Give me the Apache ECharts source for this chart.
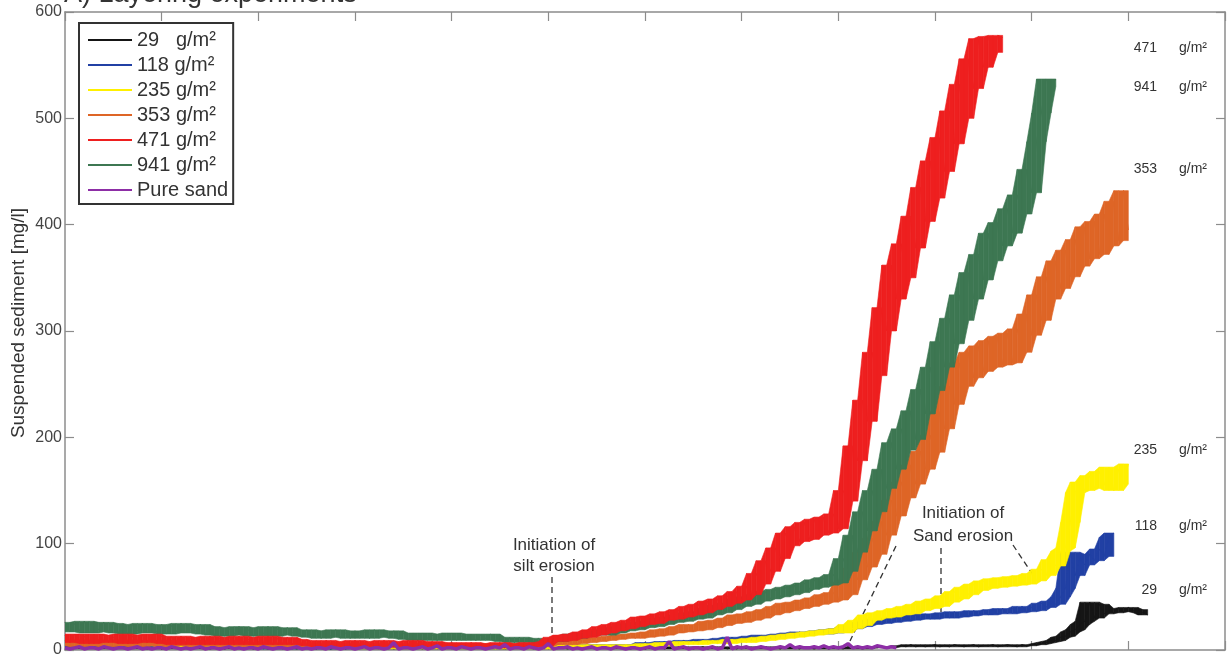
<!DOCTYPE html>
<html>
<head>
<meta charset="utf-8">
<script src="https://cdn.jsdelivr.net/npm/echarts@6/dist/echarts.min.js"></script>
<style>html,body{margin:0;padding:0;background:#fff}#c{width:1229px;height:660px}</style>
</head>
<body>
<div id="c"></div>
<script>
// ---- data (sample step 0.05 time units, starting at 0) ----
const seriesNames = ['29   g/m²','118 g/m²','235 g/m²','353 g/m²','471 g/m²','941 g/m²','Pure sand'];
const yTicks = [0,100,200,300,400,500,600];
const endLabels = ['471','941','353','235','118','29'];

const v941 = [26,17,25,18,27,16,24,19,26,17,
25,16,23,15,24,18,25,16,22,17,24,15,23,17,25,16,21,18,24,15,
22,14,21,13,20,15,22,14,19,13,21,15,22,13,20,14,21,16,19,13,
19,12,18,11,17,13,19,12,16,11,18,13,17,11,19,12,15,12,18,11,
16,10,15,9,16,11,14,9,15,10,16,9,13,10,15,9,14,11,15,9,
12,8,11,7,12,7,10,8,11,6,
9,
11,8,13,10,15,11,16,13,18,14,
19,14,21,16,22,18,25,19,26,21,
27,22,30,24,31,26,33,27,35,29,
36,30,39,33,42,35,44,38,48,41,
50,43,52,46,55,48,57,50,59,52,
61,54,63,57,66,59,68,61,71,63,
86,74,108,92,130,112,150,130,170,152,
195,170,208,188,225,198,245,222,266,244,
290,266,312,288,334,310,355,330,372,348,
392,366,402,380,415,392,428,410,452,430,
478,505,537,530,537];

const v471 = [14,7,15,8,13,6,15,9,14,7,12,8,15,6,13,9,14,7,15,8,
13,6,12,5,13,7,11,5,12,6,13,5,11,7,12,5,13,6,10,5,12,7,13,5,11,6,12,5,10,6,
9,4,8,3,9,5,7,3,8,4,9,3,7,5,8,3,9,4,7,3,8,4,9,3,7,4,8,3,6,4,
7,3,6,2,7,3,5,2,6,3,7,2,5,3,6,2,7,3,6,4,
8,
12,8,14,9,15,11,17,12,19,14,
22,16,24,18,26,20,28,22,31,24,
32,25,34,28,36,29,38,31,41,33,
43,35,46,38,48,41,51,44,55,47,
60,52,72,62,84,74,96,86,110,98,
116,102,120,104,123,108,125,110,128,114,
150,140,192,178,235,215,280,258,322,300,
362,330,382,350,408,378,435,403,460,425,
482,450,507,476,532,500,556,528,575,548,
577,562,578,576];

const v353 = [9,4,8,3,9,5,7,4,9,3,8,5,9,4,7,3,8,5,9,4,8,3,9,4,7,5,8,3,9,4,8,5,7,3,9,4,8,3,7,4,
6,3,5,2,6,3,5,2,6,4,5,2,6,3,5,2,6,3,5,3,6,2,5,3,6,2,5,3,6,2,5,3,6,2,5,3,6,2,5,3,6,3,5,2,6,3,5,2,6,3,5,2,6,3,5,2,6,4,5,3,
6,
7,5,8,5,9,6,10,7,11,8,
12,9,13,10,14,11,15,11,16,12,
17,13,19,14,20,16,22,17,24,18,
24,19,27,21,28,23,30,25,33,26,
34,28,36,30,38,33,41,35,44,37,
45,39,47,41,49,43,52,45,54,47,
64,52,77,66,92,78,105,90,121,108,
141,126,158,143,174,156,187,170,202,186,
224,208,248,231,270,248,280,256,286,262,
291,266,295,268,298,270,302,280,316,296,
334,310,351,330,366,340,376,351,386,361,
398,368,403,372,410,380,422,385,432,395];

const v235 = [9,5,10,4,8,6,10,4,9,5,8,4,10,6,9,4,8,5,9,4,
7,3,6,4,7,3,5,4,7,3,6,3,7,4,5,3,7,4,6,3,7,3,6,4,7,3,5,3,6,4,7,3,6,3,5,4,7,3,6,3,
4,1,3,2,4,1,3,2,4,1,3,1,4,2,3,1,4,2,3,1,4,1,3,2,4,1,3,2,4,1,3,1,4,2,3,1,4,2,3,1,
5,2,4,3,5,2,4,3,5,2,4,2,5,3,4,2,5,3,4,2,
6,3,6,4,7,4,7,5,8,5,8,5,8,6,9,6,9,6,10,7,
10,7,11,8,12,9,13,10,14,11,15,12,16,13,17,14,18,15,19,16,
20,16,24,20,28,23,33,28,35,30,
37,31,39,33,41,34,43,37,46,39,
48,41,51,45,55,48,59,52,62,56,
65,58,67,59,68,60,69,61,70,62,
72,65,76,70,85,79,93,
96,120,148,158,
150,164,152,168,155,172,150,170,156,175];

const v118 = [6,2,5,3,6,2,4,3,6,2,5,3,6,2,4,3,5,2,6,3,5,2,6,3,4,2,6,3,5,2,6,2,4,3,5,2,6,3,4,2,
4,1,3,2,4,1,3,1,4,2,3,1,4,2,3,1,4,1,3,2,4,1,3,2,4,1,3,1,4,2,3,1,4,2,3,1,4,1,3,2,4,1,3,2,4,1,3,1,4,2,3,1,4,2,3,1,4,1,3,2,
5,2,4,3,5,2,4,3,5,2,5,3,4,2,5,3,4,2,5,3,
7,4,7,5,8,5,8,6,9,6,9,7,10,7,10,8,11,8,12,9,
12,9,13,10,14,11,14,12,15,12,16,13,17,14,17,15,18,15,19,16,
20,17,23,20,26,22,28,24,29,25,30,26,31,27,32,28,33,29,34,29,
34,30,35,30,36,31,36,32,37,33,37,33,38,34,39,34,39,35,41,36,
40,37,44,40,46,43,50,58,92,70,
86,80,90,84,95,88,106,110];

const v29 = [2,1,3,2,1,2,3,1,2,2,1,3,2,1,2,3,2,1,2,3,
1,2,2,3,1,2,1,3,2,2,1,2,3,1,2,2,3,1,2,1,
3,2,1,2,2,3,1,2,1,3,2,2,1,3,2,1,2,3,1,2,
2,1,3,2,2,1,2,3,1,2,2,3,1,2,1,3,2,2,1,2,
3,1,2,2,1,3,2,1,2,3,2,1,2,2,3,1,2,1,3,2,
2,1,3,2,1,2,3,1,2,2,1,3,2,1,2,3,2,1,2,3,
1,2,2,3,1,2,1,3,2,2,1,2,3,1,2,2,3,1,2,1,
3,2,1,2,2,3,1,2,1,3,2,2,1,3,2,1,2,3,1,2,
2,1,3,2,2,1,2,3,2,3,2,3,
3,4,3,5,3,4,3,4,5,3,4,3,5,4,3,4,5,3,4,4,5,3,4,5,4,3,5,4,
5,5,6,7,8,9,12,13,17,19,
24,27,45,30,43,34,38,35,39,36,40,37,38,35,33];

const vSand = [2,1,2,3,1,2,2,1,3,2,1,2,2,1,2,3,1,2,1,2,
2,1,3,2,1,2,1,2,3,1,2,2,1,2,3,1,2,1,2,2,
1,3,2,1,2,2,1,2,3,1,2,1,2,2,1,3,2,1,2,2,
1,2,3,1,2,2,1,2,7,1,2,2,1,2,3,1,2,4,1,2,
2,1,3,2,1,2,2,1,2,3,2,5,1,2,2,1,3,2,1,2,
6,1,2,2,3,1,2,1,2,3,1,2,2,1,3,2,1,2,2,1,
2,3,1,2,2,8,1,2,3,1,2,2,1,2,3,1,2,12,1,3,
2,3,1,2,3,2,1,2,3,2,5,2,3,2,2,3,2,4,2,3,
2,3,6,2,3,2,3,2,4,3,2,3,2];

// sampling times
const time = [];
for (let i = 0; i <= 230; i++) time.push(Math.round(i * 5) / 100);

const pairs = v => v.map((y, i) => [time[i], y]);
// local envelope (min / max of neighbouring readings) to draw the noise band
function envelope(v, w) {
  const lo = [], hi = [];
  for (let i = 0; i < v.length; i++) {
    const win = v.slice(Math.max(0, i - w), Math.min(v.length, i + w + 1));
    lo.push(Math.min(...win)); hi.push(Math.max(...win));
  }
  return { lo, hi };
}

const colors = {
  '29   g/m²': '#151515',
  '118 g/m²': '#2140a4',
  '235 g/m²': '#fff000',
  '353 g/m²': '#de6526',
  '471 g/m²': '#ee1f1f',
  '941 g/m²': '#3d7752',
  'Pure sand': '#8d2ea6'
};
const valuesByName = {
  '29   g/m²': v29, '118 g/m²': v118, '235 g/m²': v235, '353 g/m²': v353,
  '471 g/m²': v471, '941 g/m²': v941, 'Pure sand': vSand
};
const drawOrder = ['29   g/m²','118 g/m²','235 g/m²','353 g/m²','941 g/m²','471 g/m²','Pure sand'];

function bandRenderer(color) {
  return function (params, api) {
    const i = params.dataIndexInside;
    if (i >= params.dataInsideLength - 1) return null;
    const a1 = api.coord([api.value(0, i), api.value(1, i)]);
    const a2 = api.coord([api.value(0, i), api.value(2, i)]);
    const b1 = api.coord([api.value(0, i + 1), api.value(1, i + 1)]);
    const b2 = api.coord([api.value(0, i + 1), api.value(2, i + 1)]);
    return {
      type: 'polygon', silent: true,
      shape: { points: [a1, b1, b2, a2] },
      style: { fill: color, stroke: color, lineWidth: 0.6 }
    };
  };
}

const series = [];
drawOrder.forEach((n, k) => {
  const v = valuesByName[n];
  const z = 2 + k;
  if (n !== 'Pure sand') {
    const e = envelope(v, 2);
    series.push({
      name: n + ' band', type: 'custom', renderItem: bandRenderer(colors[n]),
      data: e.lo.map((l, i) => [time[i], l, e.hi[i]]),
      encode: { x: 0, y: [1, 2] }, z, animation: false, silent: true, clip: true
    });
  }
  series.push({
    name: n, type: 'line', symbol: 'none', showSymbol: false,
    data: pairs(v),
    lineStyle: { color: colors[n], width: n === 'Pure sand' ? 3.5 : 1 },
    itemStyle: { color: colors[n] },
    z, animation: false, silent: true
  });
});

const chart = echarts.init(document.getElementById('c'), null, { renderer: 'canvas' });
const axisLine = { show: true, onZero: false, lineStyle: { color: '#8c8c8c', width: 1.5 } };
const tick = { show: true, inside: true, length: 9, lineStyle: { color: '#8c8c8c', width: 1.2 } };
const FONT = '"Liberation Sans", Arial, sans-serif';

const txt = (text, x, y, align, size) => ({
  type: 'text', silent: true,
  style: { text, x, y, align: align || 'center', verticalAlign: 'middle',
    font: (size || 17) + 'px ' + FONT, fill: '#333' }
});
const dash = (x1, y1, x2, y2) => ({
  type: 'line', silent: true, shape: { x1, y1, x2, y2 },
  style: { stroke: '#333', lineWidth: 1.3, lineDash: [6, 4] }
});
const rightPos = [48, 87, 169, 450, 526, 590];
const graphics = [
  { type: 'text', silent: true, style: { text: 'A) Layering experiments', x: 64, y: 8, align: 'left', verticalAlign: 'bottom',
      font: '27px ' + FONT, fill: '#333' } },
  { type: 'text', silent: true, x: 19, y: 323, rotation: Math.PI / 2,
    style: { text: 'Suspended sediment [mg/l]', x: 0, y: 0, align: 'center', verticalAlign: 'middle',
      font: '19px ' + FONT, fill: '#333' } },
  txt('Initiation of', 554, 545), txt('silt erosion', 554, 566), dash(552, 577, 552, 644),
  txt('Initiation of', 963, 513), txt('Sand erosion', 963, 536),
  dash(896, 546, 850, 641), dash(941, 548, 941, 612), dash(1013, 545, 1033, 575)
];
endLabels.forEach((l, k) => {
  graphics.push(txt(l, 1157, rightPos[k], 'right', 14));
  graphics.push(txt('g/m²', 1179, rightPos[k], 'left', 14));
});

chart.setOption({
  animation: false,
  backgroundColor: '#fff',
  grid: { left: 65, right: 4, top: 12, bottom: 10, containLabel: false },
  legend: {
    data: seriesNames.map(n => ({ name: n, icon: 'rect' })),
    orient: 'vertical', left: 79, top: 23,
    padding: [7, 5, 4, 9], itemGap: 5, itemWidth: 44, itemHeight: 2,
    borderColor: '#333', borderWidth: 2, backgroundColor: '#fff',
    textStyle: { fontSize: 20, lineHeight: 20, color: '#333', fontFamily: FONT },
    selectedMode: false, z: 20
  },
  xAxis: [
    { type: 'value', min: 0, max: 12, interval: 1, position: 'bottom', axisLine, axisTick: tick,
      axisLabel: { show: false }, splitLine: { show: false } },
    { type: 'value', min: 0, max: 12, interval: 1, position: 'top', axisLine, axisTick: tick,
      axisLabel: { show: false }, splitLine: { show: false } }
  ],
  yAxis: [
    { type: 'value', min: yTicks[0], max: yTicks[yTicks.length - 1], interval: 100, position: 'left',
      axisLine, axisTick: tick, splitLine: { show: false },
      axisLabel: { fontSize: 16, color: '#444', margin: 3, fontFamily: FONT } },
    { type: 'value', min: 0, max: 600, interval: 100, position: 'right',
      axisLine, axisTick: tick, splitLine: { show: false }, axisLabel: { show: false } }
  ],
  graphic: graphics,
  series
});
</script>
</body>
</html>
